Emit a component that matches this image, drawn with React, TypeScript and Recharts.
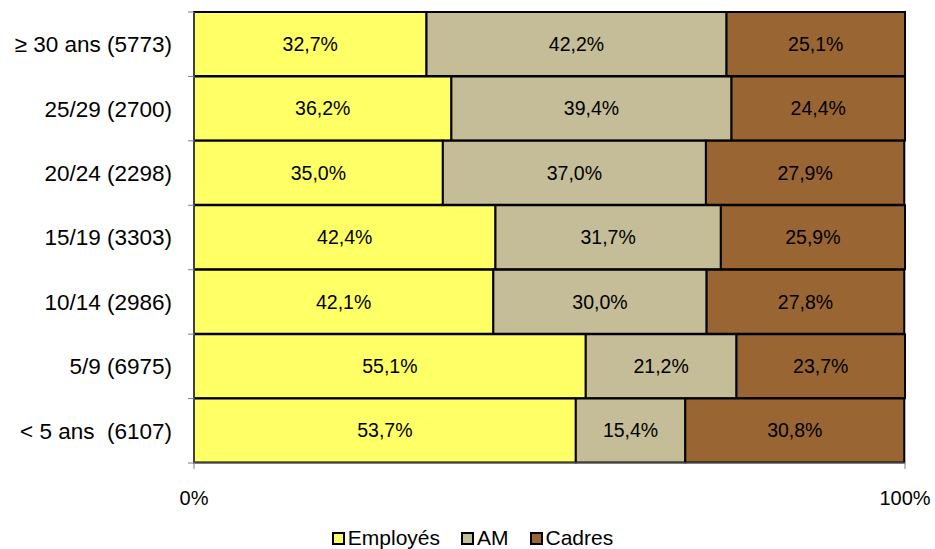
import React from 'react';
import { BarChart, Bar, XAxis, YAxis, LabelList, Legend } from 'recharts';

if (typeof document !== 'undefined') document.body.style.margin = '0';

const categories = [
  '≥ 30 ans (5773)',
  '25/29 (2700)',
  '20/24 (2298)',
  '15/19 (3303)',
  '10/14 (2986)',
  '5/9 (6975)',
  '< 5 ans  (6107)',
];
const employes = [32.7, 36.2, 35.0, 42.4, 42.1, 55.1, 53.7];
const am = [42.2, 39.4, 37.0, 31.7, 30.0, 21.2, 15.4];
const cadres = [25.1, 24.4, 27.9, 25.9, 27.8, 23.7, 30.8];
const xTicks = [0, 100];

const series = [
  { key: 'Employés', color: '#FFFF66' },
  { key: 'AM', color: '#C4BD97' },
  { key: 'Cadres', color: '#996633' },
];

const data = categories.map((name, i) => ({
  name,
  'Employés': employes[i],
  AM: am[i],
  Cadres: cadres[i],
}));

const W = 935;
const H = 549;
const margin = { top: 12, right: 30, bottom: 0, left: 0 };
const AXIS_X = 194;
const plotBottom = 463;
const band = (plotBottom - margin.top) / categories.length;
const FONT = 'Liberation Sans, Arial, sans-serif';

const fmt = (v: any) => Number(v).toFixed(1).replace('.', ',') + '%';

const YTick = (props: any) => {
  const { y, payload, index } = props;
  return (
    <g>
      {index === 0 && (
        <line x1={AXIS_X - 6} x2={AXIS_X} y1={y - band / 2} y2={y - band / 2} stroke="#808080" />
      )}
      <line x1={AXIS_X - 6} x2={AXIS_X} y1={y + band / 2} y2={y + band / 2} stroke="#808080" />
      <text
        x={AXIS_X - 22}
        y={y}
        dy="0.35em"
        textAnchor="end"
        fontSize={22.5}
        fill="#000"
        fontFamily={FONT}
        style={{ whiteSpace: 'pre' }}
      >
        {payload.value}
      </text>
    </g>
  );
};

const BarLabel = (props: any) => {
  const { x, y, width, height, value } = props;
  return (
    <text
      x={x + width / 2}
      y={y + height / 2}
      dy="0.35em"
      textAnchor="middle"
      fontSize={19.5}
      fill="#000"
      fontFamily={FONT}
    >
      {fmt(value)}
    </text>
  );
};

const LegendContent = () => (
  <div
    style={{
      display: 'flex',
      justifyContent: 'center',
      fontFamily: FONT,
      fontSize: 21,
      lineHeight: '22px',
      height: 22,
      color: '#000',
      paddingLeft: 10,
    }}
  >
    {series.map((s, i) => (
      <div key={s.key} style={{ display: 'flex', alignItems: 'center', marginLeft: i === 0 ? 0 : 21 }}>
        <span
          style={{
            display: 'inline-block',
            width: 9,
            height: 9,
            background: s.color,
            border: '2px solid #000',
            marginRight: 3,
          }}
        />
        <span>{s.key}</span>
      </div>
    ))}
  </div>
);

export default function App() {
  return (
    <div style={{ width: W, height: H, background: '#fff' }}>
      <BarChart
        width={W}
        height={H}
        data={data}
        layout="vertical"
        margin={margin}
        barCategoryGap={0}
      >
        <XAxis
          type="number"
          domain={[0, 100]}
          ticks={xTicks}
          tickFormatter={(v) => `${v}%`}
          stroke="#808080"
          tickSize={6}
          tickMargin={22}
          height={64}
          tick={{ fill: '#000', fontSize: 20, fontFamily: FONT }}
        />
        <YAxis
          type="category"
          dataKey="name"
          width={AXIS_X}
          stroke="#808080"
          tickLine={false}
          tick={<YTick />}
          interval={0}
        />
        {series.map((s) => (
          <Bar
            key={s.key}
            dataKey={s.key}
            stackId="a"
            fill={s.color}
            stroke="#000"
            strokeWidth={2}
            isAnimationActive={false}
          >
            <LabelList dataKey={s.key} content={<BarLabel />} />
          </Bar>
        ))}
        <Legend
          verticalAlign="bottom"
          height={22}
          content={<LegendContent />}
          wrapperStyle={{ left: 0, width: W }}
        />
      </BarChart>
    </div>
  );
}
